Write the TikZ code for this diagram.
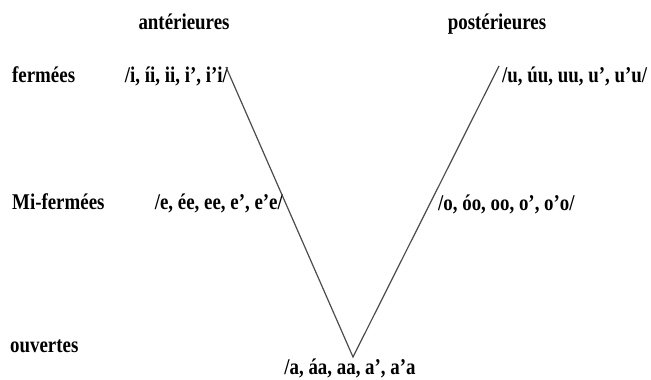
\documentclass[tikz,border=0pt]{standalone}
\usepackage{fontspec}
\setmainfont{Liberation Serif}
\usepackage{tikz}
\usetikzlibrary{positioning}
\tikzset{lbl/.style={inner sep=0pt,xscale=.84,font=\fontsize{22.5}{26}\selectfont\bfseries,text height=1.45ex,text depth=.25ex}}

\begin{document}
\begin{tikzpicture}[x=1pt,y=-1pt]
\useasboundingbox[fill=white](0,0)rectangle(651,380);
% en-tetes
\node[lbl](ant)at(184,27){antérieures};
\node[lbl](post)at(497,27){postérieures};
% lignes
\node[lbl,anchor=west](ferm)at(12,80){fermées};
\node[lbl,anchor=west](mifer)at(12,207){Mi-fermées};
\node[lbl,anchor=west](ouv)at(10,350){ouvertes};
% voyelles
\node[lbl,anchor=east](vi)at(228,80){/i, íi, ii, i’, i’i/};
\node[lbl,anchor=west](vu)at(502,80){/u, úu, uu, u’, u’u/};
\node[lbl,anchor=east](ve)at(283,207){/e, ée, ee, e’, e’e/};
\node[lbl,anchor=west](vo)at(438,208){/o, óo, oo, o’, o’o/};
\node[lbl](va)at(350,372){/a, áa, aa, a’, a’a};
% le V
\coordinate(itop)at(226,67);
\coordinate(vtx)at(353,357);
\coordinate(utop)at(499,66);
\draw[black!70,line width=1.2pt](itop)--(vtx)--(utop);
\end{tikzpicture}
\end{document}
